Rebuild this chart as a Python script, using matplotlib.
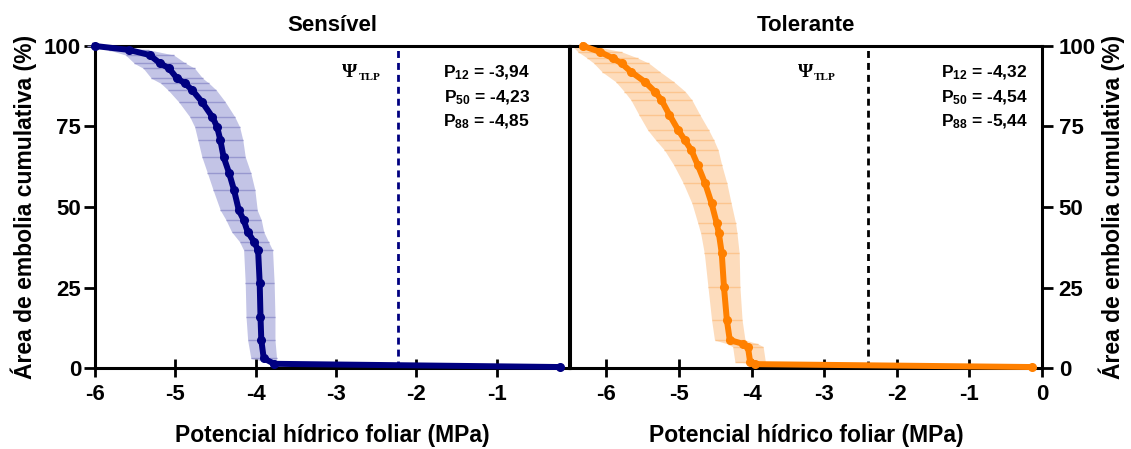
import matplotlib
matplotlib.use("Agg")
import matplotlib.pyplot as plt
import numpy as np

plt.rcParams["font.family"] = ["Liberation Sans", "DejaVu Sans"]
plt.rcParams["font.weight"] = "bold"
plt.rcParams["axes.unicode_minus"] = False
plt.rcParams["mathtext.fontset"] = "custom"
plt.rcParams["mathtext.rm"] = "Liberation Sans:bold"
plt.rcParams["mathtext.bf"] = "Liberation Sans:bold"
plt.rcParams["mathtext.default"] = "rm"

# Sensível: mean leaf water potential (MPa), cumulative embolism (%), SD of potential
x_sens = [-6.00, -5.58, -5.32, -5.19, -5.08, -4.98, -4.88, -4.79, -4.67, -4.54, -4.48,
          -4.44, -4.40, -4.33, -4.27, -4.21, -4.15, -4.10, -4.02, -3.97, -3.95, -3.94,
          -3.93, -3.90, -3.77, -0.21]
y_sens = [100, 98.8, 97.2, 94.6, 93.1, 90.0, 88.4, 86.3, 82.7, 78.0, 74.9,
          70.8, 65.6, 60.5, 55.3, 49.0, 46.0, 42.3, 39.2, 36.6, 26.4, 15.9,
          8.7, 3.0, 1.3, 0.3]
err_sens = [0.10, 0.25, 0.30, 0.32, 0.32, 0.32, 0.30, 0.30, 0.29, 0.28, 0.28,
            0.28, 0.27, 0.27, 0.26, 0.23, 0.22, 0.20, 0.18, 0.18, 0.18, 0.18,
            0.17, 0.16, 0.0, 0.0]
tlp_sens = -2.23
p_sens = ["-3,94", "-4,23", "-4,85"]

# Tolerante
x_tol = [-6.32, -6.09, -5.91, -5.79, -5.66, -5.47, -5.33, -5.24, -5.13, -5.01, -4.92,
         -4.83, -4.74, -4.64, -4.55, -4.48, -4.45, -4.41, -4.38, -4.34, -4.30, -4.12,
         -4.05, -4.02, -3.95, -0.14]
y_tol = [100, 98.2, 96.2, 94.6, 92.0, 88.9, 85.8, 83.2, 78.6, 73.9, 70.8,
         67.7, 63.0, 57.4, 51.1, 45.0, 41.8, 35.6, 25.2, 14.9, 8.7, 7.5,
         6.6, 2.0, 1.2, 0.3]
err_tol = [0.15, 0.30, 0.35, 0.38, 0.40, 0.40, 0.42, 0.42, 0.42, 0.42, 0.40,
           0.37, 0.33, 0.30, 0.27, 0.26, 0.25, 0.24, 0.22, 0.21, 0.21, 0.21,
           0.21, 0.21, 0.0, 0.0]
tlp_tol = -2.40
p_tol = ["-4,32", "-4,54", "-5,44"]

p_names = ["12", "50", "88"]
yticks = [0, 25, 50, 75, 100]

W, H = 1131, 449
fig = plt.figure(figsize=(W / 100, H / 100), dpi=100)
ax1 = fig.add_axes([95 / W, 81 / H, 474 / W, 322 / H])
ax2 = fig.add_axes([570 / W, 81 / H, 472 / W, 322 / H])


def panel(ax, x, y, err, line_c, band_c, bar_c, tlp, tlp_c, pvals, title, xlim, xticks,
          psi_x, p_x):
    x = np.array(x)
    y = np.array(y)
    err = np.array(err)
    ax.fill_betweenx(y, x - err, x + err, color=band_c, lw=0, zorder=1, clip_on=False)
    eb = ax.errorbar(x, y, xerr=err, fmt="none", ecolor=bar_c, elinewidth=1.0,
                     capsize=0, zorder=2)
    for c in eb[2]:
        c.set_clip_on(False)
    ax.plot(x, y, "-o", color=line_c, lw=4.3, ms=5.5, zorder=3, clip_on=False)
    ax.axvline(tlp, color=tlp_c, lw=2, ls=(0, (2.5, 1.8)), zorder=2)

    ax.set_xlim(*xlim)
    ax.set_ylim(0, 100)
    ax.set_xticks(xticks)
    ax.set_yticks(yticks)
    for s in ax.spines.values():
        s.set_linewidth(2.2)
    ax.tick_params(axis="x", direction="inout", length=13, width=2, labelsize=16, pad=5)
    ax.tick_params(axis="y", direction="out", length=8, width=2, labelsize=16, pad=2)

    ax.set_title(title, fontsize=16, fontweight="bold", pad=11)
    ax.set_xlabel("Potencial hídrico foliar (MPa)", fontsize=16.5, fontweight="bold",
                  labelpad=14)

    ax.text(psi_x, 0.918, "Ψ", transform=ax.transAxes, family="Liberation Serif",
            fontsize=14, fontweight="bold", ha="center", va="center")
    ax.text(psi_x + 0.018, 0.903, "TLP", transform=ax.transAxes,
            family="Liberation Serif", fontsize=8, fontweight="bold", ha="left",
            va="center")
    for i, (n, v) in enumerate(zip(p_names, pvals)):
        ax.text(p_x, 0.916 - i * 0.076, rf"P$_{{{n}}}$ = {v}", transform=ax.transAxes,
                fontsize=12.5, fontweight="bold", ha="right", va="center")


panel(ax1, x_sens, y_sens, err_sens, "#000080", "#c3c4e6", "#9898cf", tlp_sens,
      "#000080", p_sens, "Sensível", (-6, -0.1), [-6, -5, -4, -3, -2, -1], 0.538, 0.918)
panel(ax2, x_tol, y_tol, err_tol, "#ff8000", "#fddcbc", "#fcc58f", tlp_tol,
      "black", p_tol, "Tolerante", (-6.5, 0), [-6, -5, -4, -3, -2, -1, 0], 0.498, 0.970)

ax1.set_ylabel("Área de embolia cumulativa (%)", fontsize=16.5, fontweight="bold",
               labelpad=5)
ax2.yaxis.tick_right()
ax2.yaxis.set_label_position("right")
ax2.set_ylabel("Área de embolia cumulativa (%)", fontsize=16.5, fontweight="bold",
               labelpad=2)
ax2.tick_params(axis="y", direction="out", length=8, width=2, labelsize=16, pad=4)

fig.savefig("out.png", dpi=100)
